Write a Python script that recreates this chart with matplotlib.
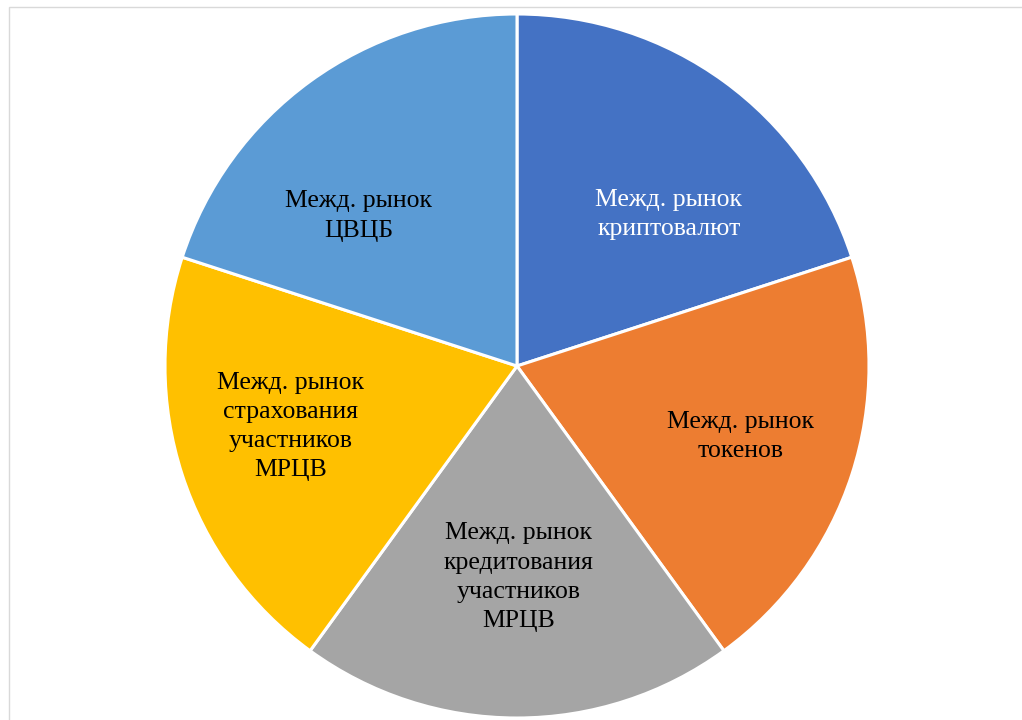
import numpy as np
import matplotlib
matplotlib.use("Agg")
import matplotlib.pyplot as plt
from matplotlib.patches import Rectangle

# Сегменты международного рынка цифровых валют (равные доли)
labels = [
    "Межд. рынок\nкриптовалют",
    "Межд. рынок\nтокенов",
    "Межд. рынок\nкредитования\nучастников\nМРЦВ",
    "Межд. рынок\nстрахования\nучастников\nМРЦВ",
    "Межд. рынок\nЦВЦБ",
]
values = [1, 1, 1, 1, 1]
colors = ["#4472C4", "#ED7D31", "#A5A5A5", "#FFC000", "#5B9BD5"]
text_colors = ["white", "black", "black", "black", "black"]

# положение подписей: (доля радиуса, угол в градусах)
label_pos = [(0.61, 45), (0.665, -17.5), (0.6, -89.5), (0.665, 195), (0.619, 136.5)]

plt.rcParams['font.family'] = ['Liberation Serif', 'DejaVu Serif']

W, H = 1022, 720
fig = plt.figure(figsize=(W / 100, H / 100), dpi=100)
ax = fig.add_axes([0, 0, 1, 1])

cx, cy, r = 517, H - 366, 352

ax.pie(values, colors=colors, startangle=90, counterclock=False,
       center=(cx, cy), radius=r, frame=True,
       wedgeprops=dict(edgecolor='white', linewidth=2.2))
ax.set_xlim(0, W)
ax.set_ylim(0, H)
ax.set_aspect('equal')
ax.axis('off')

for lab, col, (fr, ang) in zip(labels, text_colors, label_pos):
    a = np.deg2rad(ang)
    ax.text(cx + fr * r * np.cos(a), cy + fr * r * np.sin(a), lab,
            ha='center', va='center', fontsize=18.5, color=col,
            linespacing=1.42)

# рамка области диаграммы
fig.patches.append(Rectangle((9 / W, -0.01), 1.05, (H - 7) / H + 0.01,
                             transform=fig.transFigure, fill=False,
                             edgecolor='#D9D9D9', linewidth=1.0))

fig.savefig("out.png", dpi=100)
